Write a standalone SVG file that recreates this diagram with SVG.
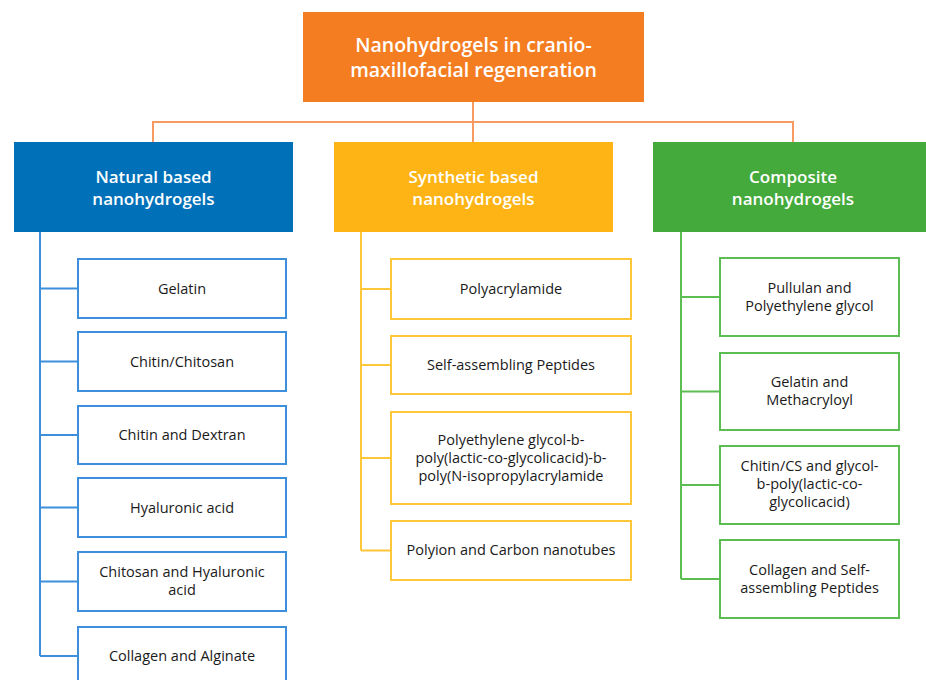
<svg xmlns="http://www.w3.org/2000/svg" width="926" height="680" viewBox="0 0 926 680">
  <style>
    .title { font-family: "Open Sans", "Noto Sans", sans-serif; font-weight: 600; font-size: 19.5px; fill: #ffffff; text-anchor: middle; }
    .cat { font-family: "Open Sans", "Noto Sans", sans-serif; font-weight: 600; font-size: 17px; fill: #ffffff; text-anchor: middle; }
    .leaf { font-family: "Open Sans", "Noto Sans", sans-serif; font-weight: 500; font-size: 14.5px; fill: #1a1a1a; text-anchor: middle; }
    .box-blue { fill: #ffffff; stroke: #3d8fdc; stroke-width: 2; }
    .box-yellow { fill: #ffffff; stroke: #fec63a; stroke-width: 2; }
    .box-green { fill: #ffffff; stroke: #5cbd52; stroke-width: 2; }
    .ln-orange { fill: none; stroke: #f79a62; stroke-width: 2; }
    .ln-blue { fill: none; stroke: #3d8fdc; stroke-width: 2; }
    .ln-yellow { fill: none; stroke: #fec63a; stroke-width: 2; }
    .ln-green { fill: none; stroke: #5cbd52; stroke-width: 2; }
  </style>
  <rect width="926" height="680" fill="#ffffff"/>

  <!-- connectors -->
  <g id="connectors">
    <path class="ln-orange" d="M473 102 V142 M153 142 V122 H793 V142"/>
    <path class="ln-blue" d="M40 232 V656 M40 288.5 H78 M40 361.5 H78 M40 435 H78 M40 507.5 H78 M40 581.5 H78 M40 656 H78"/>
    <path class="ln-yellow" d="M361 232 V550.5 M361 289 H391 M361 365 H391 M361 458 H391 M361 550.5 H391"/>
    <path class="ln-green" d="M681 232 V579 M681 297 H720 M681 391.5 H720 M681 485 H720 M681 579 H720"/>
  </g>

  <!-- root -->
  <g id="root">
    <rect x="303" y="12" width="341" height="90" fill="#f47d22"/>
    <text class="title" x="473.5" y="52">Nanohydrogels in cranio-</text>
    <text class="title" x="473.5" y="77">maxillofacial regeneration</text>
  </g>

  <!-- categories -->
  <g id="cat-natural">
    <rect x="14" y="142" width="279" height="90" fill="#0071b9"/>
    <text class="cat" x="153.5" y="183">Natural based</text>
    <text class="cat" x="153.5" y="205">nanohydrogels</text>
  </g>
  <g id="cat-synthetic">
    <rect x="334" y="142" width="279" height="90" fill="#fdb414"/>
    <text class="cat" x="473.5" y="183">Synthetic based</text>
    <text class="cat" x="473.5" y="205">nanohydrogels</text>
  </g>
  <g id="cat-composite">
    <rect x="653" y="142" width="280" height="90" fill="#44aa3b"/>
    <text class="cat" x="793" y="183">Composite</text>
    <text class="cat" x="793" y="205">nanohydrogels</text>
  </g>

  <!-- natural based items -->
  <g id="n-gelatin">
    <rect class="box-blue" x="78" y="259" width="208" height="59"/>
    <text class="leaf" x="182" y="293.5">Gelatin</text>
  </g>
  <g id="n-chitin-chitosan">
    <rect class="box-blue" x="78" y="332" width="208" height="59"/>
    <text class="leaf" x="182" y="366.5">Chitin/Chitosan</text>
  </g>
  <g id="n-chitin-dextran">
    <rect class="box-blue" x="78" y="406" width="208" height="58"/>
    <text class="leaf" x="182" y="440">Chitin and Dextran</text>
  </g>
  <g id="n-hyaluronic">
    <rect class="box-blue" x="78" y="478" width="208" height="59"/>
    <text class="leaf" x="182" y="512.5">Hyaluronic acid</text>
  </g>
  <g id="n-chitosan-hyaluronic">
    <rect class="box-blue" x="78" y="552" width="208" height="59"/>
    <text class="leaf" x="182" y="577">Chitosan and Hyaluronic</text>
    <text class="leaf" x="182" y="595">acid</text>
  </g>
  <g id="n-collagen-alginate">
    <rect class="box-blue" x="78" y="627" width="208" height="60"/>
    <text class="leaf" x="182" y="661">Collagen and Alginate</text>
  </g>

  <!-- synthetic based items -->
  <g id="s-polyacrylamide">
    <rect class="box-yellow" x="391" y="259" width="240" height="60"/>
    <text class="leaf" x="511" y="294">Polyacrylamide</text>
  </g>
  <g id="s-peptides">
    <rect class="box-yellow" x="391" y="336" width="240" height="58"/>
    <text class="leaf" x="511" y="370">Self-assembling Peptides</text>
  </g>
  <g id="s-peg-plga">
    <rect class="box-yellow" x="391" y="412" width="240" height="92"/>
    <text class="leaf" x="511" y="445">Polyethylene glycol-b-</text>
    <text class="leaf" x="511" y="463">poly(lactic-co-glycolicacid)-b-</text>
    <text class="leaf" x="511" y="481">poly(N-isopropylacrylamide</text>
  </g>
  <g id="s-polyion">
    <rect class="box-yellow" x="391" y="521" width="240" height="59"/>
    <text class="leaf" x="511" y="555">Polyion and Carbon nanotubes</text>
  </g>

  <!-- composite items -->
  <g id="c-pullulan">
    <rect class="box-green" x="720" y="258" width="179" height="78"/>
    <text class="leaf" x="809.5" y="293">Pullulan and</text>
    <text class="leaf" x="809.5" y="311">Polyethylene glycol</text>
  </g>
  <g id="c-gelatin-methacryloyl">
    <rect class="box-green" x="720" y="353" width="179" height="77"/>
    <text class="leaf" x="809.5" y="387">Gelatin and</text>
    <text class="leaf" x="809.5" y="405">Methacryloyl</text>
  </g>
  <g id="c-chitin-cs">
    <rect class="box-green" x="720" y="446" width="179" height="78"/>
    <text class="leaf" x="809.5" y="471">Chitin/CS and glycol-</text>
    <text class="leaf" x="809.5" y="489">b-poly(lactic-co-</text>
    <text class="leaf" x="809.5" y="507">glycolicacid)</text>
  </g>
  <g id="c-collagen-peptides">
    <rect class="box-green" x="720" y="540" width="179" height="78"/>
    <text class="leaf" x="809.5" y="575">Collagen and Self-</text>
    <text class="leaf" x="809.5" y="593">assembling Peptides</text>
  </g>
</svg>
